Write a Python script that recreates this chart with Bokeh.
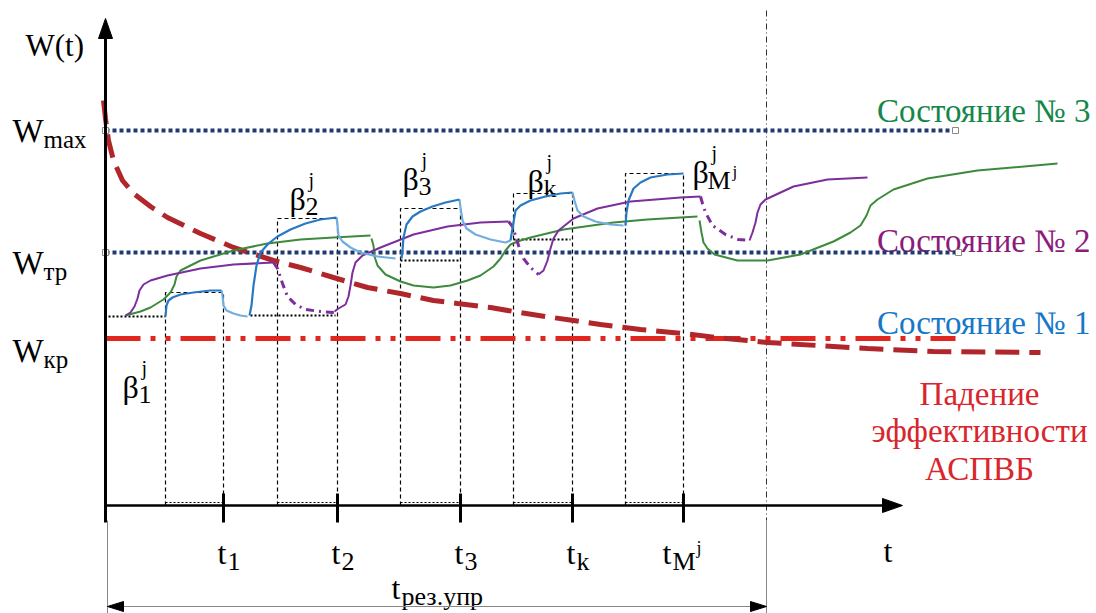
import numpy as np
from bokeh.plotting import figure
from bokeh.models import Range1d
from bokeh.core.properties import value
from bokeh.embed import file_html
from bokeh.resources import INLINE

# ---------------- data (image units: x to the right, W measured downward) -------------
X0, Y0 = 105, 505            # origin of the W(t) / t axes
X_END, Y_END = 902, 18       # arrow tips
W_MAX, W_TR, W_KR = 130, 252, 338
LEVEL_END = 955
T_RES_END = 766

tick_x = [223, 337, 460, 572, 683]
tick_sub = ["1", "2", "3", "k", "M"]

box_left = [165, 277, 400, 513, 625]
box_right = [223, 337, 460, 572, 683]
box_top = [292, 218, 208, 193, 173]
beta_sub = ["1", "2", "3", "k", "M"]

# initial (dotted black) levels before each jump
base_x0 = [108, 250, 400, 513]
base_x1 = [165, 335, 460, 570]
base_y = [316, 315, 260, 239]

# falling efficiency of the system (dashed dark red)
fall_x = [103, 105, 108, 113, 122, 133, 150, 167, 200, 233, 273, 300, 333, 367, 400, 433,
          457, 490, 513, 545, 573, 600, 640, 683, 725, 767, 817, 867, 933, 1040]
fall_y = [100, 118, 140, 160, 180, 193, 206, 217, 233, 247, 260, 267, 277, 287, 293, 300,
          303, 307, 311, 316, 320, 324, 329, 333, 338, 342, 345, 348, 351, 352]

# state 1 (blue): rising parts and relaxing parts
blue_rise = [
    ([165, 166, 168, 172, 180, 193, 210, 221], [316, 305, 300, 297, 294, 292, 290, 290]),
    ([249, 251, 253, 256, 260, 268, 277, 290, 305, 320, 336], [315, 305, 285, 265, 252, 243, 236, 229, 223, 219, 217]),
    ([401, 402, 403, 406, 412, 420, 432, 445, 459], [258, 250, 237, 224, 216, 211, 206, 202, 199]),
    ([510, 513, 515, 520, 530, 545, 560, 572], [240, 222, 210, 205, 200, 196, 193, 192]),
    ([625, 626, 628, 633, 640, 650, 667, 683], [225, 212, 200, 188, 182, 177, 174, 173]),
]
blue_relax = [
    ([221, 222, 223, 226, 233, 240, 247], [290, 295, 305, 310, 313, 315, 316]),
    ([336, 337, 338, 342, 350, 360, 377, 395], [217, 225, 235, 241, 247, 252, 256, 258]),
    ([459, 460, 462, 466, 475, 490, 505, 510], [199, 207, 220, 228, 234, 239, 242, 240]),
    ([572, 574, 577, 583, 595, 610, 623], [192, 200, 210, 216, 221, 224, 225]),
]

# state 2 (purple): solid parts and dash-dot transitions
purple_solid = [
    ([125, 130, 134, 137, 139, 143, 150, 167, 200, 233, 273],
     [315, 312, 306, 298, 290, 284, 280, 275, 268, 264, 262]),
    ([334, 338, 345, 348, 350, 352, 355, 362, 380, 413, 447, 480, 508],
     [311, 308, 304, 296, 285, 272, 262, 255, 247, 234, 226, 222, 221]),
    ([538, 543, 547, 550, 553, 558, 573, 597, 630, 680, 700],
     [274, 270, 260, 248, 238, 230, 218, 208, 201, 197, 196]),
    ([749, 752, 755, 757, 760, 765, 793, 827, 867],
     [240, 232, 222, 212, 204, 199, 186, 179, 177]),
]
purple_trans = [
    ([273, 277, 282, 287, 295, 305, 320, 334], [262, 268, 283, 296, 304, 309, 311, 312]),
    ([508, 512, 515, 518, 523, 530, 538], [221, 226, 235, 245, 258, 267, 274]),
    ([700, 702, 705, 712, 725, 738, 749], [196, 203, 212, 225, 234, 239, 240]),
]

# state 3 (green)
green_parts = [
    ([125, 140, 150, 163, 170, 174, 176, 180, 190, 200, 233, 267, 300, 333, 370],
     [315, 311, 307, 299, 292, 284, 276, 270, 265, 260, 250, 243, 239, 237, 235]),
    ([371, 373, 374, 377, 385, 400, 413, 433, 450, 467, 480, 493, 500, 505, 510, 520, 530, 563, 613, 647, 680, 697],
     [238, 245, 256, 265, 274, 281, 285, 287, 285, 280, 275, 266, 258, 250, 244, 240, 237, 229, 222, 219, 217, 216]),
    ([699, 701, 703, 707, 714, 737, 767, 800, 833, 850, 860, 866, 870, 877, 893, 927, 977, 1057],
     [220, 232, 242, 248, 254, 260, 260, 254, 241, 232, 225, 215, 205, 199, 189, 178, 170, 163]),
]

# ---------------- figure ----------------
p = figure(width=1096, height=613, x_range=Range1d(0, 1096), y_range=Range1d(613, 0),
           output_backend="svg", toolbar_location=None, min_border=0)
p.axis.visible = False
p.grid.visible = False
p.outline_line_color = None

BLUE, LBLUE = "#2b78c2", "#72ade0"
PURPLE = "#7b2e9c"
GREEN = "#3e8a3c"
NAVY = "#1e3a6e"


def txt(x, y, s, size, color="black", align="left"):
    p.text([x], [y], text=[s], text_font=value("Liberation Serif"), text_font_size=value(f"{size}px"),
           text_baseline="alphabetic", text_color=color, text_align=align)


# ---- texts ----
txt(25, 45, "W(t)", 31)
for yb, sub in [(W_MAX, "max"), (W_TR + 10, "тр"), (W_KR + 12, "кр")]:
    txt(12, yb, "W", 33)
    txt(43, yb + 9, sub, 25)

for tx, s in zip(tick_x, tick_sub):
    txt(tx - 6 if s != "M" else tx - 21, 552, "t", 32)
    if s == "M":
        txt(tx - 11, 561, "M", 26)
        txt(tx + 13, 547, "j", 18)
    else:
        txt(tx + 4, 561, s, 26)
txt(883, 550, "t", 32)
txt(391, 587, "t", 32)
txt(401, 596, "рез.упр", 26)

beta_pos = [(122, 386), (289, 198), (402, 178), (527, 180), (692, 171)]
for (bx, by), s in zip(beta_pos, beta_sub):
    txt(bx, by, "β", 32)
    txt(bx + 19, by - 19, "j", 20)
    if s == "M":
        txt(bx + 15, by + 9, "M", 26)
        txt(bx + 40, by, "j", 17)
    else:
        txt(bx + 16, by + 8, s, 26)

txt(1090, 110, "Состояние № 3", 33, color="#15874a", align="right")
txt(1090, 240, "Состояние № 2", 33, color="#8c1c7c", align="right")
txt(1090, 322, "Состояние № 1", 33, color="#1678c8", align="right")
txt(979, 393, "Падение", 33, color="#d8262c", align="center")
txt(979, 430, "эффективности", 33, color="#d8262c", align="center")
txt(979, 468, "АСПВБ", 33, color="#d8262c", align="center")

# ---- graphics ----
for xl, xr, yt in zip(box_left, box_right, box_top):
    p.line([xl, xl, xr, xr], [Y0, yt, yt, Y0], line_color="black", line_width=1.2, line_dash="4 3")
    p.line([xl, xr], [Y0 - 3, Y0 - 3], line_color="black", line_width=1.2, line_dash="2 2")
for x0, x1, yb in zip(base_x0, base_x1, base_y):
    p.line([x0, x1], [yb, yb], line_color="black", line_width=2, line_dash="2 2")

p.line([T_RES_END, T_RES_END], [10, Y0 + 15], line_color="#333333", line_width=1, line_dash="6 3 1 3")
p.line([T_RES_END, T_RES_END], [Y0 + 15, 613], line_color="#888888", line_width=1)
p.line([X0 + 2, X0 + 2], [Y0 + 15, 613], line_color="#888888", line_width=1)
p.line([X0 + 2, T_RES_END], [606, 606], line_color="#888888", line_width=1)
p.patch([X0 + 2, X0 + 18, X0 + 18], [606, 601, 611], color="black")
p.patch([T_RES_END, T_RES_END - 16, T_RES_END - 16], [606, 601, 611], color="black")

p.line([X0, LEVEL_END], [W_MAX, W_MAX], line_color=NAVY, line_width=4, line_dash="4 3")
p.line([X0, LEVEL_END + 3], [W_TR, W_TR], line_color=NAVY, line_width=4, line_dash="4 3")
p.scatter([X0, LEVEL_END, X0, LEVEL_END + 3], [W_MAX, W_MAX, W_TR, W_TR], marker="square", size=6,
          fill_color="white", line_color="#8a8a8a", line_width=1)
p.line([X0, LEVEL_END], [W_KR, W_KR], line_color="#e0261e", line_width=5, line_dash="35 10 5 10 5 10")

p.line(fall_x, fall_y, line_color="#b0262b", line_width=5, line_dash="24 10")

for xs, ys in green_parts:
    p.line(xs, ys, line_color=GREEN, line_width=2)
for xs, ys in purple_solid:
    p.line(xs, ys, line_color=PURPLE, line_width=2)
for xs, ys in purple_trans:
    p.line(xs, ys, line_color=PURPLE, line_width=3, line_dash="8 5 2 5")
for xs, ys in blue_relax:
    p.line(xs, ys, line_color=LBLUE, line_width=2.2)
for xs, ys in blue_rise:
    p.line(xs, ys, line_color=BLUE, line_width=2.2)

p.line([X0, X0], [Y0 + 17, Y_END + 12], line_color="black", line_width=3)
p.patch([X0, X0 - 7, X0 + 7], [Y_END, Y_END + 20, Y_END + 20], color="black")
p.line([X0, X_END - 12], [Y0, Y0], line_color="black", line_width=2.5)
p.patch([X_END, X_END - 20, X_END - 20], [Y0, Y0 - 7, Y0 + 7], color="black")
for tx in tick_x:
    p.line([tx, tx], [Y0 - 12, Y0 + 17], line_color="black", line_width=3)

open("out.html", "w").write(file_html(p, INLINE))
